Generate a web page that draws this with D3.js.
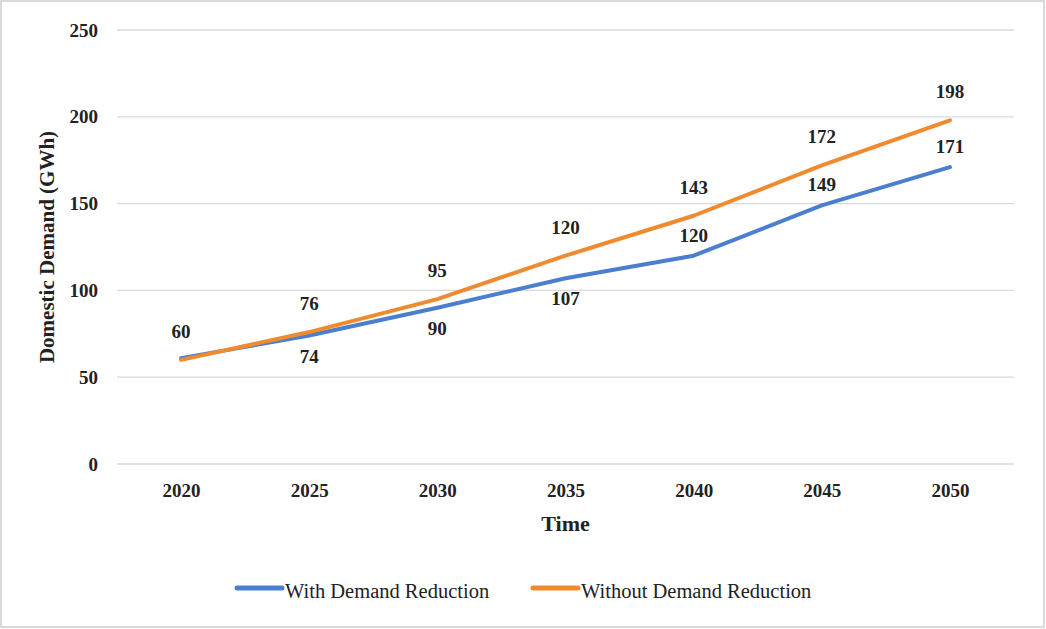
<!DOCTYPE html>
<html>
<head>
<meta charset="utf-8">
<script src="https://cdn.jsdelivr.net/npm/d3@7"></script>
<style>
  body { margin: 0; background: #fff; }
  svg, svg text { font-family: "Liberation Serif", "Times New Roman", Times, "DejaVu Serif", serif !important; }
  text { fill: #222; }
</style>
</head>
<body>
<div id="container"></div>
<script>
const years = ["2020", "2025", "2030", "2035", "2040", "2045", "2050"];
const withReduction = [61, 74, 90, 107, 120, 149, 171];
const withoutReduction = [60, 76, 95, 120, 143, 172, 198];
const withLabels = ["", "74", "90", "107", "120", "149", "171"];
const withoutLabels = ["60", "76", "95", "120", "143", "172", "198"];
const withLabelSide = ["", "below", "below", "below", "above", "above", "above"];
const yTicks = [0, 50, 100, 150, 200, 250];
const seriesNames = ["With Demand Reduction", "Without Demand Reduction"];

const w = 1046;
const h = 629;
const plotLeft = 117, plotRight = 1014, plotTop = 30, plotBottom = 464;
const blue = "#4a7ecf";
const orange = "#f08a2e";

const svg = d3.select("#container").append("svg")
  .attr("width", w).attr("height", h);

// outer border
svg.append("rect")
  .attr("x", 1).attr("y", 1).attr("width", w - 3).attr("height", h - 3)
  .attr("fill", "#fff").attr("stroke", "#d9d9d9").attr("stroke-width", 2);

const x = d3.scalePoint().domain(years).range([plotLeft, plotRight]).padding(0.5);
const y = d3.scaleLinear().domain([0, 250]).range([plotBottom, plotTop]);

// gridlines
svg.append("g").selectAll("line").data(yTicks).enter().append("line")
  .attr("x1", plotLeft).attr("x2", plotRight)
  .attr("y1", (d) => y(d)).attr("y2", (d) => y(d))
  .attr("stroke", "#d9d9d9").attr("stroke-width", 1.3);

// y axis
const yAxis = svg.append("g")
  .attr("transform", `translate(${plotLeft - 19}, 0)`)
  .call(d3.axisLeft(y).tickValues(yTicks).tickSize(0).tickPadding(0));
yAxis.select(".domain").remove();
yAxis.selectAll("text")
  .style("font-size", "19px")
  .style("font-weight", "bold").attr("fill", "#222");

// x axis
const xAxis = svg.append("g")
  .attr("transform", `translate(0, ${plotBottom + 19})`)
  .call(d3.axisBottom(x).tickSize(0).tickPadding(0));
xAxis.select(".domain").remove();
xAxis.selectAll("text")
  .style("font-size", "19px")
  .style("font-weight", "bold").attr("fill", "#222");

// axis titles
svg.append("text")
  .attr("transform", `translate(54, ${(plotTop + plotBottom) / 2}) rotate(-90)`)
  .attr("text-anchor", "middle")
  .style("font-size", "21px").style("font-weight", "bold")
  .text("Domestic Demand (GWh)");

svg.append("text")
  .attr("x", (plotLeft + plotRight) / 2).attr("y", 531)
  .attr("text-anchor", "middle")
  .style("font-size", "22px").style("font-weight", "bold")
  .text("Time");

// lines
const line = d3.line().x((d, i) => x(years[i])).y((d) => y(d));

svg.append("path").datum(withReduction)
  .attr("d", line).attr("fill", "none")
  .attr("stroke", blue).attr("stroke-width", 4)
  .attr("stroke-linejoin", "round").attr("stroke-linecap", "round");

svg.append("path").datum(withoutReduction)
  .attr("d", line).attr("fill", "none")
  .attr("stroke", orange).attr("stroke-width", 4)
  .attr("stroke-linejoin", "round").attr("stroke-linecap", "round");

// data labels
svg.append("g").selectAll("text").data(withoutReduction).enter().append("text")
  .attr("x", (d, i) => x(years[i]))
  .attr("y", (d) => y(d) - 22)
  .attr("text-anchor", "middle")
  .style("font-size", "19px").style("font-weight", "bold")
  .text((d, i) => withoutLabels[i]);

svg.append("g").selectAll("text").data(withReduction).enter().append("text")
  .attr("x", (d, i) => x(years[i]))
  .attr("y", (d, i) => withLabelSide[i] === "below" ? y(d) + 27 : y(d) - 14)
  .attr("text-anchor", "middle")
  .style("font-size", "19px").style("font-weight", "bold")
  .text((d, i) => withLabels[i]);

// legend
const legend = [
  { name: seriesNames[0], color: blue, x: 237 },
  { name: seriesNames[1], color: orange, x: 533 },
];
const lg = svg.append("g").selectAll("g").data(legend).enter().append("g")
  .attr("transform", (d) => `translate(${d.x}, 588)`);
lg.append("line")
  .attr("x1", 0).attr("x2", 45).attr("y1", 0).attr("y2", 0)
  .attr("stroke", (d) => d.color).attr("stroke-width", 5)
  .attr("stroke-linecap", "round");
lg.append("text")
  .attr("x", 48).attr("y", 10)
  .style("font-size", "20.5px")
  .text((d) => d.name);
</script>
</body>
</html>
